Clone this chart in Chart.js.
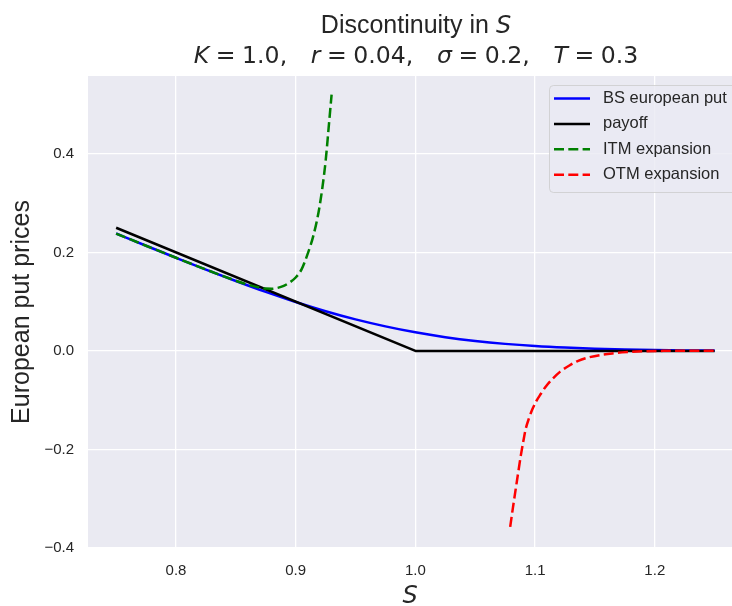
<!DOCTYPE html>
<html><head><meta charset="utf-8">
<script src="https://cdn.jsdelivr.net/npm/chart.js@4.4.1/dist/chart.umd.min.js"></script>
<style>
html,body{margin:0;padding:0;background:#fff;}
#wrap{position:relative;width:732px;height:606px;overflow:hidden;}
canvas{position:absolute;left:0;top:0;}
.t{position:absolute;left:416px;transform:translateX(-50%);white-space:nowrap;color:#262626;line-height:24px;}
.l1{top:12px;font-size:25px;font-family:"Liberation Sans",Arial,sans-serif;}
.l2{top:43px;font-size:23.6px;font-family:"DejaVu Sans",sans-serif;}
.m{font-family:"DejaVu Sans",sans-serif;font-style:italic;}
.l1 .m{font-size:24px;}
.sp{display:inline-block;width:0.278em;}
.q{display:inline-block;width:1em;}
</style></head>
<body><div id="wrap"><canvas id="c" width="732" height="606"></canvas>
<div class="t l1">Discontinuity in <span class="m">S</span></div>
<div class="t l2"><span class="m">K</span><span class="sp"></span>=<span class="sp"></span>1.0,<span class="q"></span><span class="m">r</span><span class="sp"></span>=<span class="sp"></span>0.04,<span class="q"></span><span class="m">σ</span><span class="sp"></span>=<span class="sp"></span>0.2,<span class="q"></span><span class="m">T</span><span class="sp"></span>=<span class="sp"></span>0.3</div>
</div>
<script>
// ---- data ----
const sGrid = [0.75,0.775,0.8,0.825,0.85,0.875,0.9,0.925,0.95,0.975,1.0,1.025,1.05,1.075,1.1,1.125,1.15,1.175,1.2,1.225,1.25];
const bsPut = [0.2383,0.2135,0.1891,0.1651,0.1420,0.1199,0.0994,0.0806,0.0640,0.0498,0.0377,0.0279,0.0202,0.0143,0.0099,0.0067,0.0044,0.0029,0.0018,0.0011,0.0007];
const payoffS = [0.75,1.0,1.25];
const payoffV = [0.25,0.0,0.0];
const itmS = [0.75,0.775,0.8,0.825,0.85,0.86,0.87,0.875,0.88,0.885,0.89,0.895,0.9,0.905,0.91,0.915,0.92,0.925,0.9275,0.93];
const itmV = [0.2382,0.2135,0.1891,0.1652,0.1425,0.1345,0.1285,0.1265,0.1262,0.128,0.132,0.139,0.149,0.166,0.197,0.236,0.294,0.385,0.452,0.52];
const otmS = [1.0792,1.0815,1.0839,1.086,1.0881,1.0902,1.0922,1.095,1.0978,1.101,1.1047,1.109,1.1144,1.121,1.1283,1.136,1.145,1.1644,1.18,1.192,1.21,1.23,1.25];
const otmV = [-0.357,-0.318,-0.279,-0.245,-0.212,-0.183,-0.158,-0.136,-0.118,-0.102,-0.0875,-0.072,-0.057,-0.042,-0.030,-0.020,-0.013,-0.005,-0.002,-0.0006,0.0002,0.0005,0.0006];
const seriesNames = ['BS european put','payoff','ITM expansion','OTM expansion'];
const xTicks = [0.8,0.9,1.0,1.1,1.2];
const yTicks = [-0.4,-0.2,0.0,0.2,0.4];

const pts = (xs, ys) => xs.map((x, i) => ({x: x, y: ys[i]}));
const TXT = '#262626';

const bgPlugin = {
  id: 'bg',
  beforeDraw(chart) {
    const {ctx, chartArea: a} = chart;
    ctx.save();
    ctx.fillStyle = '#ffffff';
    ctx.fillRect(0, 0, chart.width, chart.height);
    ctx.fillStyle = '#EAEAF2';
    ctx.fillRect(a.left, a.top, a.right - a.left, a.bottom - a.top);
    ctx.restore();
  }
};

const legendPlugin = {
  id: 'boxLegend',
  afterDatasetsDraw(chart) {
    const ctx = chart.ctx;
    ctx.save();
    const x0 = 549.5, y0 = 85.5, w = 200, h = 107, r = 4;
    ctx.beginPath();
    ctx.moveTo(x0 + r, y0);
    ctx.lineTo(x0 + w - r, y0);
    ctx.arcTo(x0 + w, y0, x0 + w, y0 + r, r);
    ctx.lineTo(x0 + w, y0 + h - r);
    ctx.arcTo(x0 + w, y0 + h, x0 + w - r, y0 + h, r);
    ctx.lineTo(x0 + r, y0 + h);
    ctx.arcTo(x0, y0 + h, x0, y0 + h - r, r);
    ctx.lineTo(x0, y0 + r);
    ctx.arcTo(x0, y0, x0 + r, y0, r);
    ctx.closePath();
    ctx.fillStyle = 'rgba(234,234,242,0.8)';
    ctx.fill();
    ctx.lineWidth = 1;
    ctx.strokeStyle = 'rgba(204,204,204,0.8)';
    ctx.stroke();
    chart.data.datasets.forEach((ds, i) => {
      const y = 98.5 + i * 25.4;
      ctx.beginPath();
      ctx.strokeStyle = ds.borderColor;
      ctx.lineWidth = ds.borderWidth;
      ctx.setLineDash(ds.borderDash || []);
      ctx.moveTo(554, y);
      ctx.lineTo(590, y);
      ctx.stroke();
      ctx.setLineDash([]);
      ctx.fillStyle = TXT;
      ctx.font = '16.5px "Liberation Sans", Arial, sans-serif';
      ctx.textBaseline = 'middle';
      ctx.textAlign = 'left';
      ctx.fillText(ds.label, 603, y);
    });
    ctx.restore();
  }
};

const DASH = [10, 4.3];
const LW = 2.5;
new Chart(document.getElementById('c'), {
  type: 'line',
  data: {
    datasets: [
      {label: seriesNames[0], data: pts(sGrid, bsPut), borderColor: '#0000FF', borderWidth: LW, cubicInterpolationMode: 'monotone', order: 3},
      {label: seriesNames[1], data: pts(payoffS, payoffV), borderColor: '#000000', borderWidth: LW, tension: 0, order: 2},
      {label: seriesNames[2], data: pts(itmS, itmV), borderColor: '#008000', borderWidth: LW, borderDash: DASH, cubicInterpolationMode: 'monotone', order: 1},
      {label: seriesNames[3], data: pts(otmS, otmV), borderColor: '#FF0000', borderWidth: LW, borderDash: DASH, cubicInterpolationMode: 'monotone', order: 0}
    ]
  },
  options: {
    responsive: false,
    animation: false,
    events: [],
    elements: {point: {radius: 0, hoverRadius: 0}, line: {borderCapStyle: 'butt', borderJoinStyle: 'round', fill: false}},
    layout: {padding: {top: 76, left: 0, right: 0, bottom: 0}},
    plugins: {legend: {display: false}, tooltip: {enabled: false}, title: {display: false}},
    scales: {
      x: {
        type: 'linear', min: 0.7265, max: 1.2645,
        afterBuildTicks: s => { s.ticks = xTicks.map(v => ({value: v})); },
        afterFit: s => { s.height = 58; },
        ticks: {callback: v => Number(v).toFixed(1), color: TXT, font: {family: 'Liberation Sans', size: 15}, padding: 14, maxRotation: 0, autoSkip: false},
        grid: {color: '#ffffff', lineWidth: 1.3, drawTicks: false},
        border: {display: false},
        title: {display: true, text: 'S', color: TXT, font: {family: 'DejaVu Sans', size: 24, style: 'italic', lineHeight: 0.8}, padding: 0}
      },
      y: {
        type: 'linear', min: -0.4, max: 0.558,
        afterBuildTicks: s => { s.ticks = yTicks.map(v => ({value: v})); },
        afterFit: s => { s.width = 88; },
        ticks: {callback: v => (v < -1e-9 ? '\u2212' : '') + Math.abs(v).toFixed(1), color: TXT, font: {family: 'Liberation Sans', size: 15}, padding: 14, autoSkip: false},
        grid: {color: '#ffffff', lineWidth: 1.3, drawTicks: false},
        border: {display: false},
        title: {display: true, text: 'European put prices', color: TXT, font: {family: 'Liberation Sans', size: 25}, padding: {top: 7, bottom: 0}}
      }
    }
  },
  plugins: [bgPlugin, legendPlugin]
});
</script>
</body></html>
